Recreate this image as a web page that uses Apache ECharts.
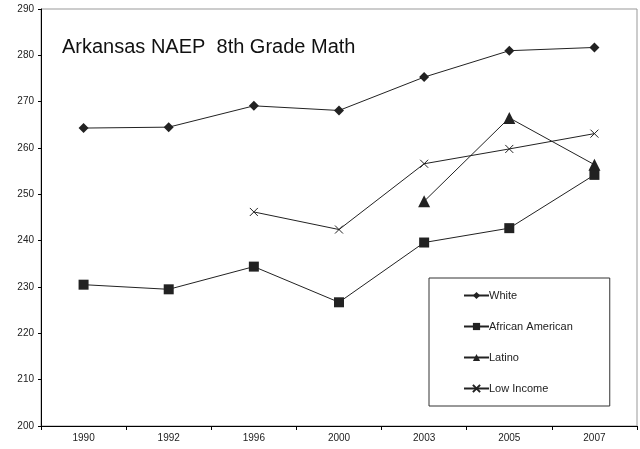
<!DOCTYPE html>
<html>
<head>
<meta charset="utf-8">
<script src="https://cdn.jsdelivr.net/npm/echarts@6/dist/echarts.min.js"></script>
<style>
  html, body { margin: 0; padding: 0; background: #fff; }
  #chart { width: 640px; height: 449px; }
</style>
</head>
<body>
<div id="chart"></div>
<script>
// 年份
var years = ["1990", "1992", "1996", "2000", "2003", "2005", "2007"];
// 各组分数
var white = [264.3, 264.5, 269.1, 268.1, 275.3, 281.0, 281.7];
var africanAmerican = [230.5, 229.5, 234.4, 226.7, 239.6, 242.7, 254.2];
var latino = [null, null, null, null, 248.5, 266.5, 256.4];
var lowIncome = [null, null, 246.2, 242.4, 256.6, 259.8, 263.1];
var yTicks = { min: 200, max: 290, interval: 10 };

var crossPath = "path://M0,0L10,10M10,0L0,10";
var ink = "#222";

function makeSeries(name, data, symbol, size) {
  return {
    name: name,
    type: "line",
    data: data,
    symbol: symbol,
    symbolSize: size,
    showSymbol: true,
    connectNulls: false,
    lineStyle: { color: ink, width: 1 },
    itemStyle: { color: ink, borderColor: ink, borderWidth: symbol === crossPath ? 1 : 0 },
    emphasis: { disabled: true },
    animation: false,
  };
}

var myChart = echarts.init(document.getElementById("chart"));
var option = {
  backgroundColor: "#fff",
  animation: false,
  title: {
    text: "Arkansas NAEP  8th Grade Math",
    left: 57,
    top: 32,
    textStyle: {
      fontFamily: "Liberation Sans",
      fontWeight: "normal",
      fontSize: 20,
      color: "#111",
    },
  },
  grid: {
    left: 41,
    right: 3,
    top: 9,
    bottom: 23,
    show: true,
    borderColor: "#999",
    borderWidth: 1,
    containLabel: false,
  },
  legend: {
    orient: "vertical",
    left: 429,
    top: 278,
    padding: [12, 37, 12, 34],
    itemGap: 20,
    itemWidth: 25,
    itemHeight: 9,
    borderColor: "#333",
    borderWidth: 1,
    backgroundColor: "#fff",
    textStyle: {
      fontFamily: "Liberation Sans",
      fontSize: 11,
      color: "#222",
      padding: [0, 0, 0, -5],
    },
    data: ["White", "African American", "Latino", "Low Income"],
  },
  xAxis: {
    type: "category",
    data: years,
    boundaryGap: true,
    axisLine: { lineStyle: { color: "#000", width: 1 } },
    axisTick: { show: true, inside: false, length: 4, lineStyle: { color: "#000" } },
    axisLabel: {
      fontFamily: "Liberation Sans",
      fontSize: 10,
      color: "#222",
      margin: 7,
    },
  },
  yAxis: {
    type: "value",
    min: yTicks.min,
    max: yTicks.max,
    interval: yTicks.interval,
    axisLine: { show: true, lineStyle: { color: "#000", width: 1 } },
    axisTick: { show: true, length: 3, lineStyle: { color: "#000" } },
    splitLine: { show: false },
    axisLabel: {
      fontFamily: "Liberation Sans",
      fontSize: 10,
      color: "#222",
      margin: 7,
    },
  },
  series: [
    makeSeries("White", white, "diamond", 10),
    makeSeries("African American", africanAmerican, "rect", 10),
    makeSeries("Latino", latino, "triangle", 12),
    makeSeries("Low Income", lowIncome, crossPath, 8),
  ],
};
myChart.setOption(option);
window.addEventListener("resize", function () {
  myChart.resize();
});
</script>
</body>
</html>
